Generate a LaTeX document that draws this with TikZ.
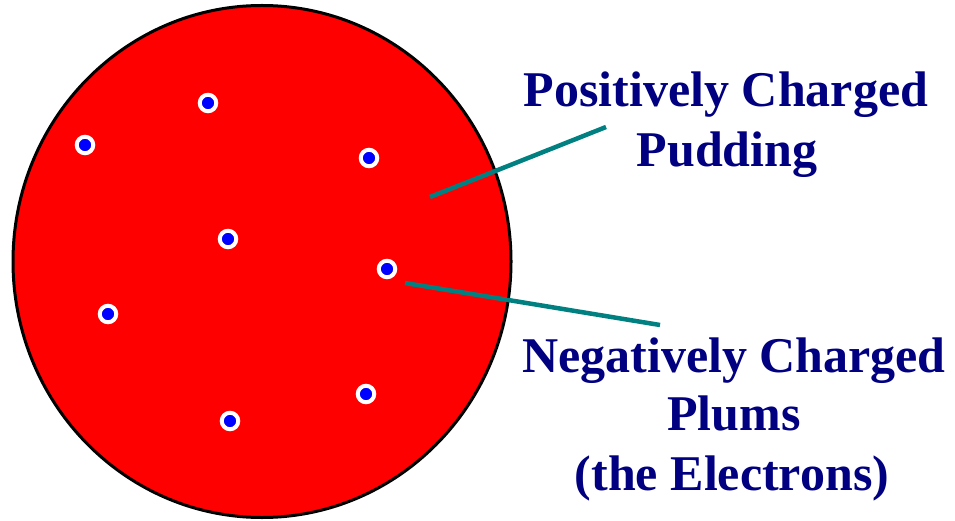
\documentclass[tikz,border=0pt]{standalone}
\usepackage{fontspec}
\setmainfont{Liberation Serif}
\definecolor{pudred}{RGB}{255,0,0}
\definecolor{plumblue}{RGB}{0,0,255}
\definecolor{labelnavy}{RGB}{0,0,128}
\definecolor{leaderteal}{RGB}{0,128,128}
\begin{document}
\begin{tikzpicture}[x=1pt,y=-1pt,
  pudding/.style={fill=pudred,draw=black,line width=3pt},
  plum/.style={circle,fill=plumblue,draw=white,line width=4pt,minimum size=16.5pt,inner sep=0pt},
  leader/.style={draw=leaderteal,line width=4.5pt},
  lbl/.style={text=labelnavy,font=\fontsize{50}{60}\selectfont\bfseries,anchor=base,inner sep=0pt}]
\useasboundingbox (0,0) rectangle (955,521);
\fill[white] (0,0) rectangle (955,521);
\draw[pudding] (262,261.5) ellipse [x radius=249, y radius=256];
\node[plum] (p1) at (208,103) {};
\node[plum] (p2) at (85,145) {};
\node[plum] (p3) at (369,158) {};
\node[plum] (p4) at (228,239) {};
\node[plum] (p5) at (387,269) {};
\node[plum] (p6) at (108,314) {};
\node[plum] (p7) at (366,394) {};
\node[plum] (p8) at (230,421) {};
\coordinate (pudpt) at (430,197);
\coordinate (pudend) at (606,127);
\coordinate (plumstart) at (405,283);
\coordinate (plumend) at (660,325);
\draw[leader] (pudpt) -- (pudend);
\draw[leader] (plumstart) -- (plumend);
\node[lbl] (t1) at (726,107) {Positively Charged};
\node[lbl] (t2) at (727,167) {Pudding};
\node[lbl] (t3) at (734,372) {Negatively Charged};
\node[lbl] (t4) at (734,430) {Plums};
\node[lbl] (t5) at (732,490) {(the Electrons)};
\end{tikzpicture}
\end{document}
